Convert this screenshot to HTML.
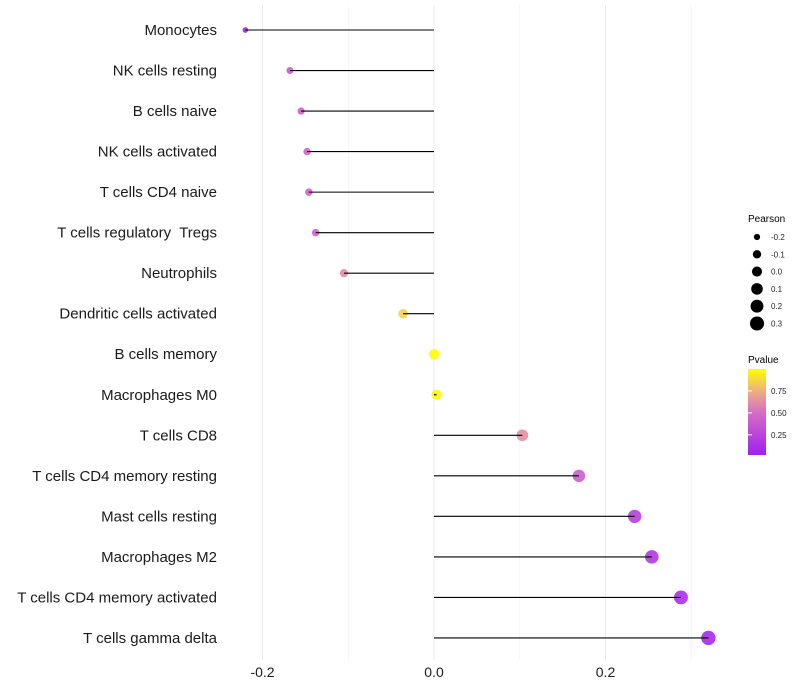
<!DOCTYPE html>
<html><head><meta charset="utf-8"><style>
body{margin:0;background:#fff;}
svg{display:block;font-family:"Liberation Sans",sans-serif;}
text{white-space:pre;}
</style></head><body>
<svg id="chart" width="800" height="700">
<defs><linearGradient id="pg" x1="0" y1="1" x2="0" y2="0">
<stop offset="0" stop-color="#A020F0"/><stop offset="0.5" stop-color="rgb(214,110,196)"/><stop offset="0.75" stop-color="#EDB27E"/><stop offset="1" stop-color="#FFFF00"/></linearGradient></defs>
<g id="grid"></g><g id="marks"></g><g id="ylab"></g><g id="xlab"></g>
<g>
<text x="748" y="222" font-size="10">Pearson</text>
<g id="sizeleg"></g></g>
<g>
<text x="748" y="363" font-size="10">Pvalue</text>
<rect x="748" y="369" width="18" height="86" fill="url(#pg)"/>
<g id="colleg"></g></g>
</svg>
<script>
const categories=["Monocytes","NK cells resting","B cells naive","NK cells activated","T cells CD4 naive","T cells regulatory  Tregs","Neutrophils","Dendritic cells activated","B cells memory","Macrophages M0","T cells CD8","T cells CD4 memory resting","Mast cells resting","Macrophages M2","T cells CD4 memory activated","T cells gamma delta"];
const pearson=[-0.22,-0.168,-0.155,-0.148,-0.146,-0.138,-0.105,-0.036,0.0,0.003,0.103,0.169,0.234,0.254,0.288,0.32];
const pvalue=[0.05,0.38,0.42,0.43,0.44,0.45,0.62,0.85,1.0,0.98,0.62,0.4,0.2,0.16,0.1,0.06];
const xTicks=[-0.2,0.0,0.2];
const xMinor=[-0.1,0.1,0.3];
const sizeLegend=[-0.2,-0.1,0.0,0.1,0.2,0.3];
const colorTicks=[0.25,0.5,0.75];
const NS="http://www.w3.org/2000/svg";
const x=v=>434+v*857.5;
const y=i=>30+i*40.53;
const r=v=>Math.sqrt(Math.max(4,8+80*(v+0.22)));
function col(p){const st=[[0,[160,32,240]],[0.5,[214,110,196]],[0.75,[237,178,126]],[1,[255,255,0]]];
for(let k=0;k<st.length-1;k++){if(p<=st[k+1][0]){const t=(p-st[k][0])/(st[k+1][0]-st[k][0]);const c=st[k][1].map((a,j)=>Math.round(a+(st[k+1][1][j]-a)*t));return `rgb(${c})`;}}return "rgb(255,255,0)";}
function mk(tag,attrs,parent){const e=document.createElementNS(NS,tag);for(const k in attrs)e.setAttribute(k,attrs[k]);document.getElementById(parent).appendChild(e);return e;}
xMinor.forEach(v=>{const l=mk("line",{x1:x(v),x2:x(v),y1:5,y2:660,stroke:"#f0f0f0","stroke-width":0.6},"grid");

});
xTicks.forEach(v=>{const l=mk("line",{x1:x(v),x2:x(v),y1:5,y2:660,stroke:"#ebebeb","stroke-width":1},"grid");


const t=mk("text",{x:x(v),y:677,"font-size":14,"text-anchor":"middle",fill:"#1a1a1a"},"xlab");t.textContent=v===0?"0.0":v.toFixed(1);

});
categories.forEach((c,i)=>{const v=pearson[i];
const d=mk("circle",{cx:x(v),cy:y(i),r:r(v),fill:col(pvalue[i]),"fill-opacity":0.9},"marks");


const l=mk("line",{x1:x(0),x2:x(v),y1:y(i),y2:y(i),stroke:"#000","stroke-width":1.1},"marks");


const t=mk("text",{x:217,y:y(i)+5,"font-size":15,"text-anchor":"end",fill:"#1a1a1a"},"ylab");t.textContent=c;

});
sizeLegend.forEach((v,i)=>{const yy=237+i*17.3;
const c=mk("circle",{cx:757,cy:yy,r:r(v),fill:"#000"},"sizeleg");


const t=mk("text",{x:771,y:yy+3,"font-size":8,fill:"#222"},"sizeleg");t.textContent=v.toFixed(1);

});
colorTicks.forEach(p=>{const yy=455-(p-0.02)*(86/0.98);
const t=mk("text",{x:771,y:yy+3,"font-size":8,fill:"#222"},"colleg");t.textContent=p.toFixed(2);


const l=mk("line",{x1:748,x2:752,y1:yy,y2:yy,stroke:"#fff"},"colleg");

});
</script>
</body></html>
